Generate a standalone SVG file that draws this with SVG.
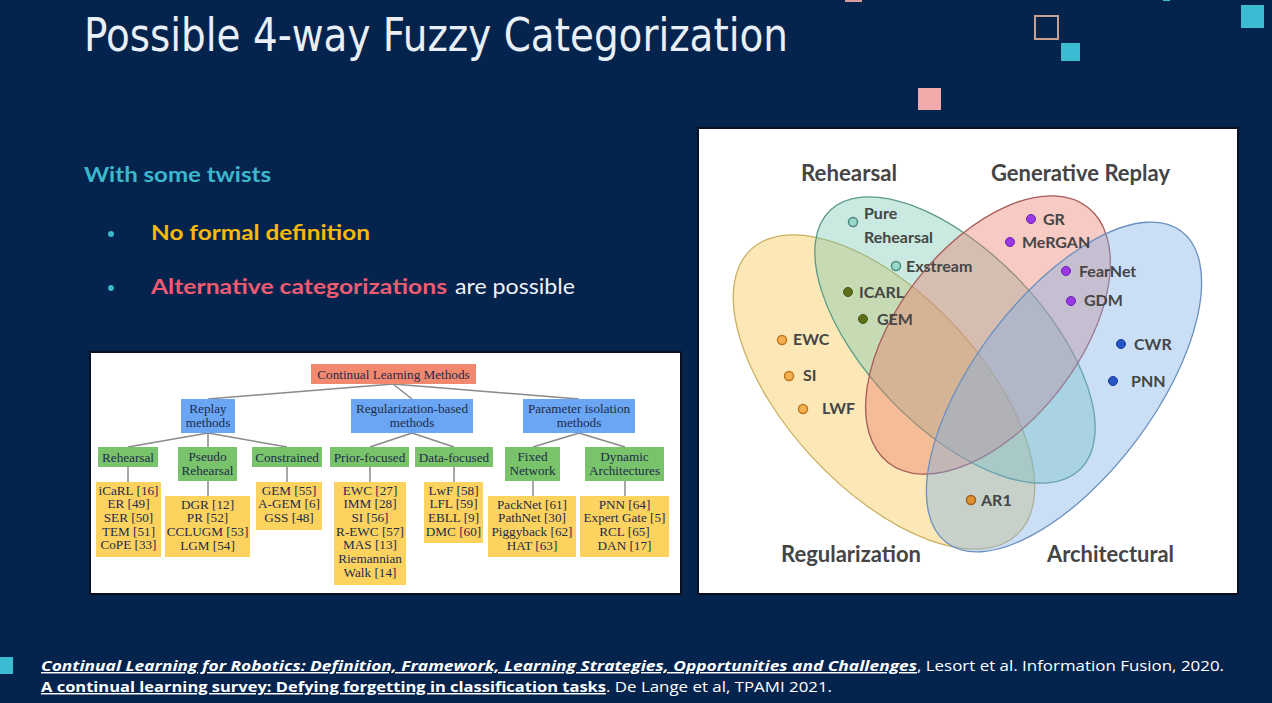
<svg xmlns="http://www.w3.org/2000/svg" width="1272" height="703" viewBox="0 0 1272 703">
<defs>
<style>
.bg{fill:#04244e}
.root{fill:#f2896f}
.blue{fill:#6aa6f4}
.green{fill:#79c36a}
.yel{fill:#fdd360}
.tt{font-family:"Liberation Serif","Times New Roman",serif;font-size:13.2px;fill:#1e2b4a;text-anchor:middle}
.conn{stroke:#8a8a8a;stroke-width:1.5;fill:none}
.vl{font-family:Lato,"Open Sans",sans-serif;font-weight:700;font-size:16px;fill:#454545}
.vh{font-family:Lato,"Open Sans",sans-serif;font-weight:700;font-size:22px;fill:#454545}
.ft{font-family:"Open Sans","DejaVu Sans",sans-serif;font-size:14.5px;fill:#ffffff}
</style>
</defs>
<rect class="bg" x="0" y="0" width="1272" height="703"/>

<g id="decor">
<rect x="1035" y="16" width="23" height="23" fill="none" stroke="#c9a08e" stroke-width="2"/>
<rect x="1061" y="43" width="19" height="18" fill="#3cbcd2"/>
<rect x="1241" y="5" width="23" height="23" fill="#3cbcd2"/>
<rect x="918" y="88" width="23" height="22" fill="#f2a9aa"/>
<rect x="845" y="0" width="17" height="2" fill="#d99aa0"/>
<rect x="1163" y="0" width="7" height="1" fill="#3cbcd2"/>
<rect x="0" y="657" width="13" height="17" fill="#3cbcd2"/>
</g>

<g id="title">
<text x="84" y="51" font-family="'DejaVu Sans Condensed','DejaVu Sans',sans-serif" font-size="46" fill="#e9eff6" textLength="704" lengthAdjust="spacingAndGlyphs">Possible 4-way Fuzzy Categorization</text>
</g>
<g id="bullets">
<text x="84" y="182" font-family="Lato,'Open Sans',sans-serif" font-weight="700" font-size="21" fill="#3cb8cc" textLength="187" lengthAdjust="spacingAndGlyphs">With some twists</text>
<circle cx="111" cy="234" r="3" fill="#3cb8cc"/>
<text x="151" y="240" font-family="Lato,'Open Sans',sans-serif" font-weight="700" font-size="21" fill="#f6b90c" textLength="219" lengthAdjust="spacingAndGlyphs">No formal definition</text>
<circle cx="111" cy="288" r="3" fill="#3cb8cc"/>
<text x="151" y="294" font-family="Lato,'Open Sans',sans-serif" font-weight="700" font-size="21" fill="#ef5b70" textLength="296" lengthAdjust="spacingAndGlyphs">Alternative categorizations</text>
<text x="455" y="294" font-family="Lato,'Open Sans',sans-serif" font-size="21" fill="#eef2f7" textLength="120" lengthAdjust="spacingAndGlyphs">are possible</text>
</g>

<rect x="90" y="352" width="591" height="242" fill="#ffffff" stroke="#0b1020" stroke-width="2"/>
<g id="tree-connectors">
<path class="conn" d="M393 384 L208 399 M393 384 L412 399 M393 384 L579 399"/>
<path class="conn" d="M208 433 L128 447 M208 433 L208 447 M208 433 L287 447"/>
<path class="conn" d="M412 433 L370 447 M412 433 L454 447"/>
<path class="conn" d="M579 433 L533 447 M579 433 L625 447"/>
<path class="conn" d="M128 467 V482 M208 481 V496 M287 467 V482 M370 467 V482 M454 467 V482 M533 481 V496 M625 481 V496"/>
</g>
<g id="n-root"><rect class="root" x="311" y="364" width="165" height="20"/><text class="tt" x="393.5" y="378.5">Continual Learning Methods</text></g>
<g id="n-replay"><rect class="blue" x="181" y="399" width="54" height="34"/><text class="tt" x="208" y="412.5">Replay</text><text class="tt" x="208" y="426.5">methods</text></g>
<g id="n-reg"><rect class="blue" x="351" y="399" width="122" height="34"/><text class="tt" x="412" y="412.5">Regularization-based</text><text class="tt" x="412" y="426.5">methods</text></g>
<g id="n-param"><rect class="blue" x="523" y="399" width="112" height="34"/><text class="tt" x="579" y="412.5">Parameter isolation</text><text class="tt" x="579" y="426.5">methods</text></g>
<g id="n-rehearsal"><rect class="green" x="98" y="447" width="60" height="20"/><text class="tt" x="128" y="461.5">Rehearsal</text></g>
<g id="n-pseudo"><rect class="green" x="178" y="447" width="59" height="34"/><text class="tt" x="207.5" y="460.5">Pseudo</text><text class="tt" x="207.5" y="474.5">Rehearsal</text></g>
<g id="n-constrained"><rect class="green" x="252" y="447" width="70" height="20"/><text class="tt" x="287" y="461.5">Constrained</text></g>
<g id="n-prior"><rect class="green" x="330" y="447" width="79" height="20"/><text class="tt" x="369.5" y="461.5">Prior-focused</text></g>
<g id="n-data"><rect class="green" x="415" y="447" width="78" height="20"/><text class="tt" x="454" y="461.5">Data-focused</text></g>
<g id="n-fixed"><rect class="green" x="505" y="447" width="55" height="34"/><text class="tt" x="532.5" y="460.5">Fixed</text><text class="tt" x="532.5" y="474.5">Network</text></g>
<g id="n-dynamic"><rect class="green" x="585" y="447" width="79" height="34"/><text class="tt" x="624.5" y="460.5">Dynamic</text><text class="tt" x="624.5" y="474.5">Architectures</text></g>
<g id="l-rehearsal"><rect class="yel" x="96" y="482" width="65" height="75"/>
<text class="tt" x="128.5" y="494.5">iCaRL [16]</text><text class="tt" x="128.5" y="508.2">ER [49]</text><text class="tt" x="128.5" y="521.9">SER [50]</text><text class="tt" x="128.5" y="535.6">TEM [51]</text><text class="tt" x="128.5" y="549.3">CoPE [33]</text></g>
<g id="l-pseudo"><rect class="yel" x="165" y="496" width="85" height="61"/>
<text class="tt" x="207.5" y="508.5">DGR [12]</text><text class="tt" x="207.5" y="522.2">PR [52]</text><text class="tt" x="207.5" y="535.9">CCLUGM [53]</text><text class="tt" x="207.5" y="549.6">LGM [54]</text></g>
<g id="l-constrained"><rect class="yel" x="256" y="482" width="66" height="48"/>
<text class="tt" x="289" y="494.5">GEM [55]</text><text class="tt" x="289" y="508.2">A-GEM [6]</text><text class="tt" x="289" y="521.9">GSS [48]</text></g>
<g id="l-prior"><rect class="yel" x="334" y="482" width="72" height="103"/>
<text class="tt" x="370" y="494.5">EWC [27]</text><text class="tt" x="370" y="508.2">IMM [28]</text><text class="tt" x="370" y="521.9">SI [56]</text><text class="tt" x="370" y="535.6">R-EWC [57]</text><text class="tt" x="370" y="549.3">MAS [13]</text><text class="tt" x="370" y="563">Riemannian</text><text class="tt" x="370" y="576.7">Walk [14]</text></g>
<g id="l-data"><rect class="yel" x="424" y="482" width="59" height="61"/>
<text class="tt" x="453.5" y="494.5">LwF [58]</text><text class="tt" x="453.5" y="508.2">LFL [59]</text><text class="tt" x="453.5" y="521.9">EBLL [9]</text><text class="tt" x="453.5" y="535.6">DMC [60]</text></g>
<g id="l-fixed"><rect class="yel" x="488" y="496" width="88" height="61"/>
<text class="tt" x="532" y="508.5">PackNet [61]</text><text class="tt" x="532" y="522.2">PathNet [30]</text><text class="tt" x="532" y="535.9">Piggyback [62]</text><text class="tt" x="532" y="549.6">HAT [63]</text></g>
<g id="l-dynamic"><rect class="yel" x="580" y="496" width="89" height="61"/>
<text class="tt" x="624.5" y="508.5">PNN [64]</text><text class="tt" x="624.5" y="522.2">Expert Gate [5]</text><text class="tt" x="624.5" y="535.9">RCL [65]</text><text class="tt" x="624.5" y="549.6">DAN [17]</text></g>

<rect x="698" y="128" width="540" height="466" fill="#ffffff" stroke="#0b1020" stroke-width="2"/>
<g id="venn-sets">
<ellipse id="set-regularization" cx="884" cy="392" rx="195" ry="97" transform="rotate(47 884 392)" fill="#f5c850" fill-opacity="0.42" stroke="#c9b060" stroke-width="1.3"/>
<ellipse id="set-rehearsal" cx="955" cy="340" rx="180" ry="88" transform="rotate(46 955 340)" fill="#70c4b0" fill-opacity="0.38" stroke="#5a9a88" stroke-width="1.3"/>
<ellipse id="set-generative" cx="988" cy="335" rx="162" ry="90" transform="rotate(-52 988 335)" fill="#ec7a68" fill-opacity="0.4" stroke="#a85a5a" stroke-width="1.3"/>
<ellipse id="set-architectural" cx="1064" cy="387" rx="195" ry="90" transform="rotate(-53 1064 387)" fill="#7aaee6" fill-opacity="0.4" stroke="#6a90c0" stroke-width="1.3"/>
</g>
<g id="venn-labels">
<text class="vh" x="801" y="181" textLength="96" lengthAdjust="spacingAndGlyphs">Rehearsal</text>
<text class="vh" x="991" y="181" textLength="179" lengthAdjust="spacingAndGlyphs">Generative Replay</text>
<text class="vh" x="781" y="562" textLength="140" lengthAdjust="spacingAndGlyphs">Regularization</text>
<text class="vh" x="1047" y="562" textLength="127" lengthAdjust="spacingAndGlyphs">Architectural</text>
</g>
<g id="venn-points">
<g id="p-pure"><circle cx="853" cy="222" r="4.5" fill="#9ad8cc" stroke="#4a8a7c" stroke-width="1.5"/><text class="vl" x="864" y="219">Pure</text><text class="vl" x="864" y="243">Rehearsal</text></g>
<g id="p-exstream"><circle cx="896" cy="266" r="4.5" fill="#9ad8cc" stroke="#4a8a7c" stroke-width="1.5"/><text class="vl" x="906" y="272">Exstream</text></g>
<g id="p-icarl"><circle cx="848" cy="292" r="4.5" fill="#5c6e18" stroke="#4a5810" stroke-width="1"/><text class="vl" x="859" y="298">ICARL</text></g>
<g id="p-gem"><circle cx="863" cy="319" r="4.5" fill="#5c6e18" stroke="#4a5810" stroke-width="1"/><text class="vl" x="877" y="325">GEM</text></g>
<g id="p-ewc"><circle cx="782" cy="340" r="4.5" fill="#f4b050" stroke="#c07820" stroke-width="1.5"/><text class="vl" x="793" y="345">EWC</text></g>
<g id="p-si"><circle cx="789" cy="376" r="4.5" fill="#f4b050" stroke="#c07820" stroke-width="1.5"/><text class="vl" x="803" y="381">SI</text></g>
<g id="p-lwf"><circle cx="803" cy="409" r="4.5" fill="#f4b050" stroke="#c07820" stroke-width="1.5"/><text class="vl" x="822" y="414">LWF</text></g>
<g id="p-ar1"><circle cx="971" cy="500" r="4.5" fill="#e09030" stroke="#a06020" stroke-width="1.5"/><text class="vl" x="981" y="506">AR1</text></g>
<g id="p-gr"><circle cx="1031" cy="219" r="4.5" fill="#9a38e8" stroke="#6a20b0" stroke-width="1"/><text class="vl" x="1043" y="225">GR</text></g>
<g id="p-mergan"><circle cx="1010" cy="242" r="4.5" fill="#9a38e8" stroke="#6a20b0" stroke-width="1"/><text class="vl" x="1022" y="248">MeRGAN</text></g>
<g id="p-fearnet"><circle cx="1066" cy="271" r="4.5" fill="#9a38e8" stroke="#6a20b0" stroke-width="1"/><text class="vl" x="1079" y="277">FearNet</text></g>
<g id="p-gdm"><circle cx="1071" cy="301" r="4.5" fill="#9a38e8" stroke="#6a20b0" stroke-width="1"/><text class="vl" x="1084" y="306">GDM</text></g>
<g id="p-cwr"><circle cx="1121" cy="344" r="4.5" fill="#2454c8" stroke="#183c90" stroke-width="1"/><text class="vl" x="1134" y="350">CWR</text></g>
<g id="p-pnn"><circle cx="1113" cy="381" r="4.5" fill="#2454c8" stroke="#183c90" stroke-width="1"/><text class="vl" x="1131" y="387">PNN</text></g>
</g>

<g id="footer">
<text class="ft" x="41" y="671" font-weight="700" font-style="italic" text-decoration="underline" textLength="876" lengthAdjust="spacingAndGlyphs">Continual Learning for Robotics: Definition, Framework, Learning Strategies, Opportunities and Challenges</text>
<text class="ft" x="917" y="671" textLength="307" lengthAdjust="spacingAndGlyphs">, Lesort et al. Information Fusion, 2020.</text>
<text class="ft" x="41" y="692" font-weight="700" text-decoration="underline" textLength="565" lengthAdjust="spacingAndGlyphs">A continual learning survey: Defying forgetting in classification tasks</text>
<text class="ft" x="606" y="692" textLength="226" lengthAdjust="spacingAndGlyphs">. De Lange et al, TPAMI 2021.</text>
</g>
</svg>
